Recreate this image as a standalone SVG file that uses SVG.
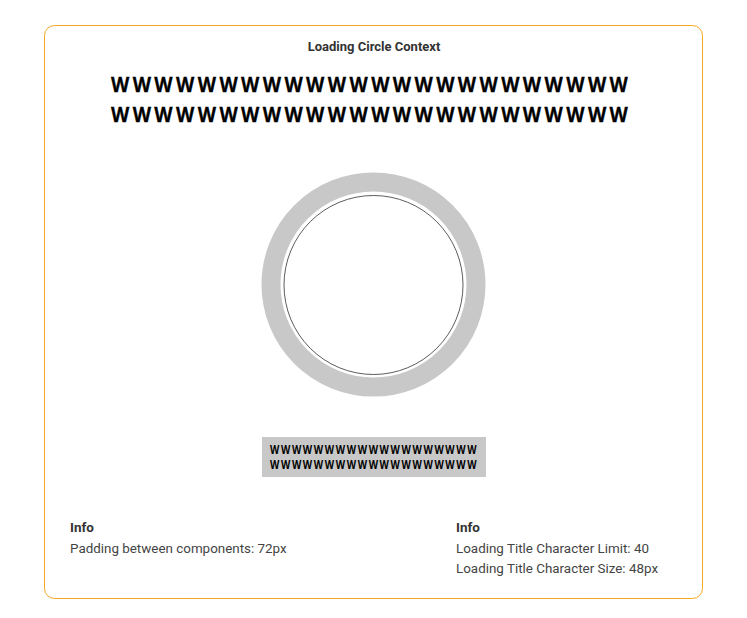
<svg xmlns="http://www.w3.org/2000/svg" width="747" height="618" viewBox="0 0 747 618">
  <style>
    .title { font-family: Roboto, "Liberation Sans", sans-serif; font-size: 13px; font-weight: bold; fill: #333333; }
    .big { font-family: "Open Sans", "Liberation Sans", sans-serif; font-size: 22px; font-weight: bold; fill: #000000; stroke: #000000; stroke-width: 0.3; }
    .small { font-family: "Open Sans", "Liberation Sans", sans-serif; font-size: 11.5px; font-weight: bold; fill: #000000; }
    .infoh { font-family: Roboto, "Liberation Sans", sans-serif; font-size: 13.5px; font-weight: bold; fill: #333333; }
    .info { font-family: Roboto, "Liberation Sans", sans-serif; font-size: 13.4px; fill: #444444; }
  </style>
  <rect width="747" height="618" fill="#ffffff"/>
  <g id="frame">
    <rect x="44.5" y="25.5" width="658" height="573" rx="10" ry="10" fill="#ffffff" stroke="#F5A623" stroke-width="1"/>
    <text class="title" x="374" y="51" text-anchor="middle">Loading Circle Context</text>
  </g>
  <g id="loading-title">
    <text class="big" transform="translate(111,92) scale(0.86,1)" x="0" y="0" textLength="601" lengthAdjust="spacing">WWWWWWWWWWWWWWWWWWWWWWWW</text>
    <text class="big" transform="translate(111,122) scale(0.86,1)" x="0" y="0" textLength="601" lengthAdjust="spacing">WWWWWWWWWWWWWWWWWWWWWWWW</text>
  </g>
  <g id="loading-circle">
    <circle cx="373.5" cy="284.5" r="102.5" fill="none" stroke="#C8C8C8" stroke-width="19"/>
    <circle cx="373.5" cy="285" r="89.5" fill="none" stroke="#333333" stroke-width="0.8"/>
  </g>
  <g id="caption-box">
    <rect x="262" y="437" width="224" height="40" fill="#C8C8C8"/>
    <text class="small" transform="translate(270,453.5) scale(0.84,1)" x="0" y="0" textLength="246" lengthAdjust="spacing">WWWWWWWWWWWWWWWWWWW</text>
    <text class="small" transform="translate(270,468.5) scale(0.84,1)" x="0" y="0" textLength="246" lengthAdjust="spacing">WWWWWWWWWWWWWWWWWWW</text>
  </g>
  <g id="info-left">
    <text class="infoh" x="70" y="532">Info</text>
    <text class="info" x="70" y="553">Padding between components: 72px</text>
  </g>
  <g id="info-right">
    <text class="infoh" x="456" y="532">Info</text>
    <text class="info" x="456" y="553">Loading Title Character Limit: 40</text>
    <text class="info" x="456" y="573">Loading Title Character Size: 48px</text>
  </g>
</svg>
